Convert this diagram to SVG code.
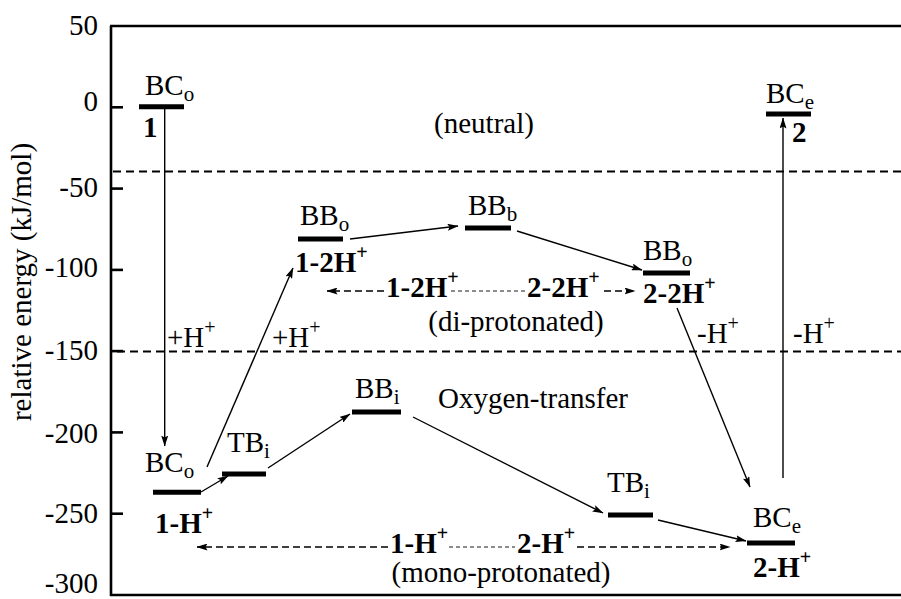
<svg xmlns="http://www.w3.org/2000/svg" width="901" height="599" viewBox="0 0 901 599" font-family="Liberation Serif, Times New Roman, serif">
  <defs>
    <style>
      text { font-family: 'Liberation Serif', 'Times New Roman', Times, serif; font-size: 29px; fill: #000; }
      .b { font-weight: bold; }
      .tick { text-anchor: end; }
      .sub { font-size: 21px; }
      .sup { font-size: 20px; }
      .axis { stroke: #000; stroke-width: 2.6; fill: none; }
      .level { stroke: #000; stroke-width: 5; }
      .sep { stroke: #000; stroke-width: 2; stroke-dasharray: 8 5; }
      .link { stroke: #000; stroke-width: 1.4; fill: none; marker-end: url(#ah); }
      .eq { stroke: #000; stroke-width: 1.6; stroke-dasharray: 7 4; fill: none; }
      .eqfine { stroke: #000; stroke-width: 0.9; stroke-dasharray: 4 3; fill: none; }
    </style>
    <marker id="ah" markerWidth="11" markerHeight="7" refX="10.5" refY="3.5" orient="auto" markerUnits="userSpaceOnUse">
      <path d="M0,0 L11,3.5 L0,7 L2,3.5 z" fill="#000"/>
    </marker>
  </defs>

  <!-- axes frame and ticks -->
  <g id="axes">
    <line class="axis" x1="111" y1="26" x2="111" y2="596"/>
    <line class="axis" x1="110" y1="26" x2="901" y2="26"/>
    <line class="axis" x1="110" y1="595" x2="901" y2="595"/>
    <line class="axis" x1="111" y1="107.3" x2="123" y2="107.3"/>
    <line class="axis" x1="111" y1="188.6" x2="123" y2="188.6"/>
    <line class="axis" x1="111" y1="269.9" x2="123" y2="269.9"/>
    <line class="axis" x1="111" y1="351.1" x2="123" y2="351.1"/>
    <line class="axis" x1="111" y1="432.4" x2="123" y2="432.4"/>
    <line class="axis" x1="111" y1="513.7" x2="123" y2="513.7"/>
    <text class="tick" x="98" y="35">50</text>
    <text class="tick" x="98" y="111">0</text>
    <text class="tick" x="98" y="197">-50</text>
    <text class="tick" x="98" y="277">-100</text>
    <text class="tick" x="98" y="360">-150</text>
    <text class="tick" x="98" y="443">-200</text>
    <text class="tick" x="98" y="523">-250</text>
    <text class="tick" x="98" y="593">-300</text>
    <text transform="translate(31,282) rotate(-90)" text-anchor="middle">relative energy (kJ/mol)</text>
  </g>

  <!-- region separators and region names -->
  <g id="regions">
    <line class="sep" x1="113" y1="171.5" x2="901" y2="171.5"/>
    <line class="sep" x1="117" y1="351.5" x2="901" y2="351.5"/>
    <text x="484" y="133" text-anchor="middle">(neutral)</text>
    <text x="516" y="331" text-anchor="middle">(di-protonated)</text>
    <text x="501" y="582" text-anchor="middle">(mono-protonated)</text>
    <text x="438" y="408">Oxygen-transfer</text>
  </g>

  <!-- neutral species -->
  <g id="n1-BCo">
    <line class="level" x1="139" y1="106.7" x2="184" y2="106.7"/>
    <text x="145" y="95">BC<tspan class="sub" dy="6">o</tspan></text>
    <text class="b" x="143" y="137">1</text>
  </g>
  <g id="n2-BCe">
    <line class="level" x1="766" y1="114" x2="811" y2="114"/>
    <text x="766" y="103">BC<tspan class="sub" dy="6">e</tspan></text>
    <text class="b" x="792" y="142">2</text>
  </g>

  <!-- di-protonated species -->
  <g id="d1-BBo">
    <line class="level" x1="298" y1="239" x2="343" y2="239"/>
    <text x="300" y="225">BB<tspan class="sub" dy="6">o</tspan></text>
    <text class="b" x="295" y="272">1-2H<tspan class="sup" dy="-13">+</tspan></text>
  </g>
  <g id="d-BBb">
    <line class="level" x1="465" y1="228" x2="511" y2="228"/>
    <text x="468" y="215">BB<tspan class="sub" dy="6">b</tspan></text>
  </g>
  <g id="d2-BBo">
    <line class="level" x1="643" y1="273" x2="690" y2="273"/>
    <text x="643" y="260">BB<tspan class="sub" dy="6">o</tspan></text>
    <text class="b" x="643" y="303">2-2H<tspan class="sup" dy="-13">+</tspan></text>
  </g>

  <!-- mono-protonated species -->
  <g id="m1-BCo">
    <line class="level" x1="153" y1="492.3" x2="201" y2="492.3"/>
    <text x="145" y="472">BC<tspan class="sub" dy="6">o</tspan></text>
    <text class="b" x="155" y="533">1-H<tspan class="sup" dy="-13">+</tspan></text>
  </g>
  <g id="m-TBi-a">
    <line class="level" x1="222" y1="474" x2="266" y2="474"/>
    <text x="227" y="452">TB<tspan class="sub" dy="6">i</tspan></text>
  </g>
  <g id="m-BBi">
    <line class="level" x1="352" y1="412" x2="401" y2="412"/>
    <text x="355" y="398">BB<tspan class="sub" dy="6">i</tspan></text>
  </g>
  <g id="m-TBi-b">
    <line class="level" x1="608" y1="515" x2="653" y2="515"/>
    <text x="607" y="492">TB<tspan class="sub" dy="6">i</tspan></text>
  </g>
  <g id="m2-BCe">
    <line class="level" x1="747" y1="543" x2="795" y2="543"/>
    <text x="753" y="527">BC<tspan class="sub" dy="6">e</tspan></text>
    <text class="b" x="753" y="577">2-H<tspan class="sup" dy="-13">+</tspan></text>
  </g>

  <!-- connectors -->
  <g id="connectors">
    <line class="link" x1="164.7" y1="109" x2="164.7" y2="446"/>
    <line class="link" x1="201" y1="492" x2="228" y2="476"/>
    <line class="link" x1="268" y1="468" x2="350" y2="414"/>
    <line class="link" x1="413" y1="417" x2="603" y2="513"/>
    <line class="link" x1="658" y1="520" x2="746" y2="541"/>
    <line class="link" x1="207" y1="467" x2="293" y2="268"/>
    <line class="link" x1="350" y1="239" x2="458" y2="226"/>
    <line class="link" x1="517" y1="231" x2="642" y2="270"/>
    <line class="link" x1="677" y1="308" x2="750" y2="487"/>
    <line class="link" x1="783" y1="478" x2="783" y2="118"/>

    <!-- proton transfer labels -->
    <text x="167" y="347">+H<tspan class="sup" dy="-13">+</tspan></text>
    <text x="272" y="347">+H<tspan class="sup" dy="-13">+</tspan></text>
    <text x="697" y="343">-H<tspan class="sup" dy="-13">+</tspan></text>
    <text x="793" y="343">-H<tspan class="sup" dy="-13">+</tspan></text>

    <!-- equilibrium between 1-2H+ and 2-2H+ -->
    <line class="eq" x1="384" y1="291" x2="327" y2="291" marker-end="url(#ah)"/>
    <line class="eqfine" x1="451" y1="291" x2="526" y2="291"/>
    <line class="eq" x1="604" y1="291" x2="635" y2="291" marker-end="url(#ah)"/>
    <text class="b" x="386" y="297">1-2H<tspan class="sup" dy="-13">+</tspan></text>
    <text class="b" x="527" y="297">2-2H<tspan class="sup" dy="-13">+</tspan></text>

    <!-- equilibrium between 1-H+ and 2-H+ -->
    <line class="eq" x1="388" y1="547" x2="197" y2="547" marker-end="url(#ah)"/>
    <line class="eqfine" x1="449" y1="547" x2="515" y2="547"/>
    <line class="eq" x1="577" y1="547" x2="730" y2="547" marker-end="url(#ah)"/>
    <text class="b" x="390" y="553">1-H<tspan class="sup" dy="-13">+</tspan></text>
    <text class="b" x="517" y="553">2-H<tspan class="sup" dy="-13">+</tspan></text>
  </g>
</svg>
